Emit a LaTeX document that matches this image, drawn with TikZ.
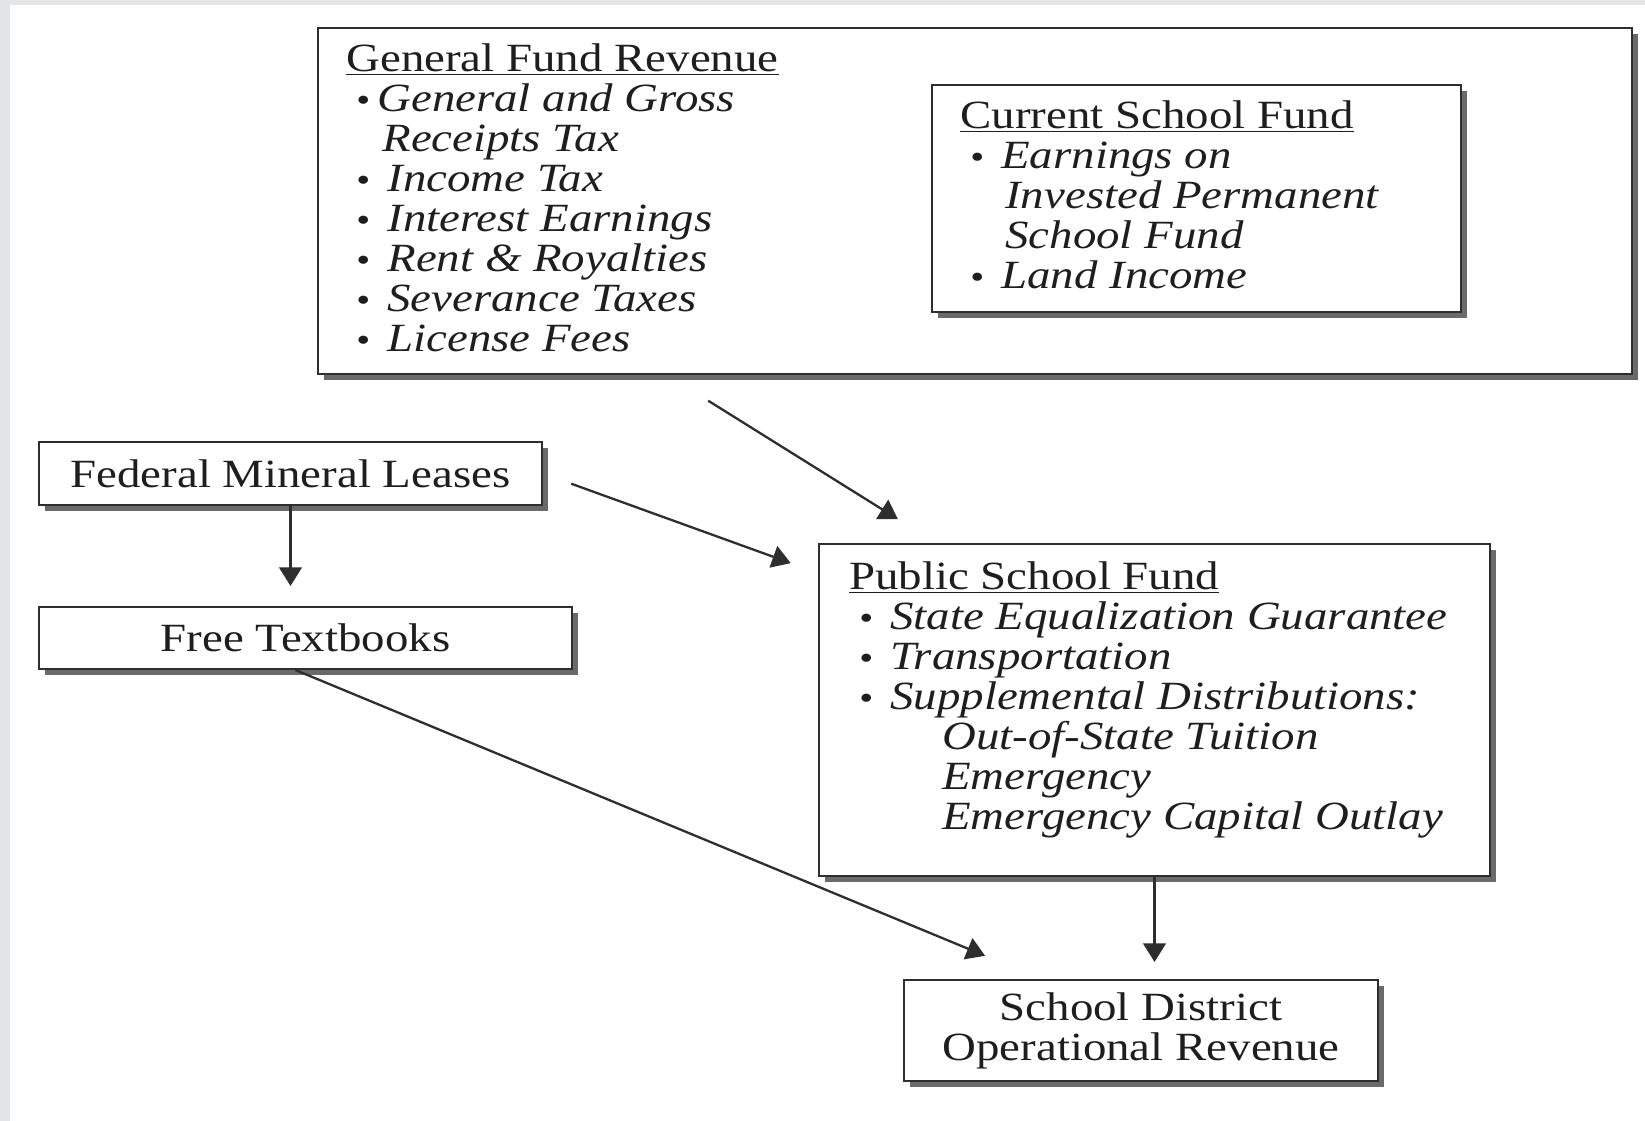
\documentclass[tikz,border=0pt]{standalone}
\usepackage{fontspec}
\setmainfont{Liberation Serif}[FakeStretch=1.17]
\usetikzlibrary{arrows.meta,shadows}

\definecolor{linegray}{HTML}{2E2E2E}
\definecolor{shadowgray}{HTML}{6A6A6A}
\definecolor{framegray}{HTML}{E4E5E6}
\definecolor{textgray}{HTML}{1E1E1E}

\newcommand{\boxfont}{\fontsize{22.8pt}{22.8pt}\selectfont\lineskiplimit=-20pt}
\newcommand{\listdot}{\scalebox{0.85}{\textbullet}}
\newcommand{\bitem}[1]{\makebox[0.82cm][l]{\hspace*{0.2cm}\listdot}\textit{#1}}
\newcommand{\bmore}[2]{\hspace*{#1}\textit{#2}}

\tikzset{
  fundbox/.style={draw=linegray, line width=1.2pt, fill=white, inner sep=0pt,
    text=textgray, font=\boxfont,
    drop shadow={shadow xshift=0.12cm, shadow yshift=-0.12cm, fill=shadowgray, opacity=1}},
  fundlist/.style={align=left, inner sep=0pt, anchor=north west, text=textgray, font=\boxfont},
  flow/.style={draw=linegray, line width=1.3pt, -{Triangle[length=0.37cm,width=0.45cm]}}
}

\begin{document}
\begin{tikzpicture}[x=0.02cm,y=-0.02cm]
\useasboundingbox (0,0) rectangle (1645,1121);
\fill[framegray] (0,0) rectangle (1645,1121);
\fill[white] (10,5) rectangle (1645,1121);

% state revenue
\node[fundbox, minimum width=26.28cm, minimum height=6.92cm] (gfr) at (975,201) {};
\node[fundlist] (gfrtext) at ([shift={(29,16)}]gfr.north west) {%
  \underline{General Fund Revenue}\\
  \makebox[0.62cm][l]{\hspace*{0.2cm}\listdot}\textit{General and Gross}\\
  \bmore{0.72cm}{Receipts Tax}\\
  \bitem{Income Tax}\\
  \bitem{Interest Earnings}\\
  \bitem{Rent \& Royalties}\\
  \bitem{Severance Taxes}\\
  \bitem{License Fees}};
\node[fundbox, minimum width=10.58cm, minimum height=4.54cm] (csf) at (1196.5,198.5) {};
\node[fundlist] (csftext) at ([shift={(29,16)}]csf.north west) {%
  \underline{Current School Fund}\\
  \bitem{Earnings on}\\
  \bmore{0.9cm}{Invested Permanent}\\
  \bmore{0.9cm}{School Fund}\\
  \bitem{Land Income}};

% federal money
\node[fundbox, minimum width=10.06cm, minimum height=1.26cm] (fml) at (290.5,473.5) {Federal Mineral Leases};
\node[fundbox, minimum width=10.66cm, minimum height=1.24cm] (ft) at (305.5,638) {Free Textbooks};

% distribution
\node[fundbox, minimum width=13.42cm, minimum height=6.64cm] (psf) at (1154.5,710) {};
\node[fundlist] (psftext) at ([shift={(31,18)}]psf.north west) {%
  \underline{Public School Fund}\\
  \bitem{State Equalization Guarantee}\\
  \bitem{Transportation}\\
  \bitem{Supplemental Distributions:}\\
  \bmore{1.86cm}{Out-of-State Tuition}\\
  \bmore{1.86cm}{Emergency}\\
  \bmore{1.86cm}{Emergency Capital Outlay}};
\node[fundbox, align=center, minimum width=9.48cm, minimum height=2.02cm] (sd) at (1141,1030.5) {School District\\Operational Revenue};

% flows
\draw[flow, shorten <=0.97cm, shorten >=0.9cm] ([shift={(350,0)}]gfr.south west) -- ([shift={(118,0)}]psf.north west);
\draw[flow, shorten <=0.6cm, shorten >=0.58cm] (fml.east) -- ([shift={(0,30)}]psf.north west);
\draw[flow, shorten >=0.4cm] (fml.south) -- (fml.south |- ft.north);
\draw[flow, shorten >=1.21cm] ([shift={(-10,0)}]ft.south) -- ([shift={(138,0)}]sd.north west);
\draw[flow, shorten >=0.34cm] (psf.south) -- (psf.south |- sd.north);
\end{tikzpicture}
\end{document}
